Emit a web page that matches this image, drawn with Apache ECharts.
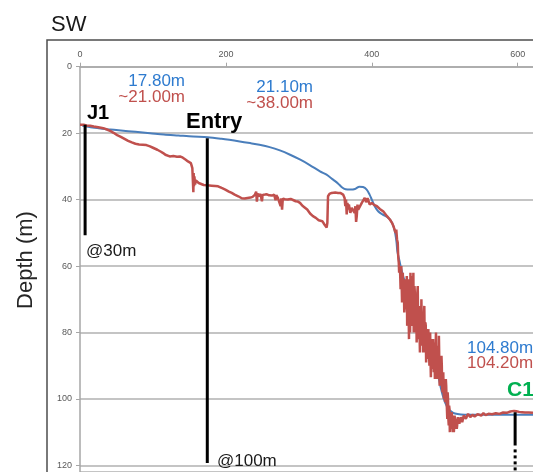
<!DOCTYPE html>
<html>
<head>
<meta charset="utf-8">
<script src="https://cdn.jsdelivr.net/npm/echarts@6/dist/echarts.min.js"></script>
<style>html,body{margin:0;padding:0;background:#fff;}#c{width:533px;height:472px;}</style>
</head>
<body>
<div id="c"></div>
<script>
// ---- data ----
const xTicks = [0, 200, 400, 600];
const yTicks = [0, 20, 40, 60, 80, 100, 120];

const blueData = [
 [3,17.7],[17,18.3],[37,18.8],[56,19.2],[76,19.6],[96,20.0],[115,20.4],[135,20.7],[155,21.0],[175,21.2],
 [194,21.7],[219,22.5],[233,23.0],[246,23.5],[260,24.2],[274,25.2],[288,26.5],[302,28.0],[315,29.6],[329,31.5],
 [338,32.5],[347,34.0],[354,35.2],[359,36.3],[364,36.9],[371,37.0],[377,36.8],[383,36.1],[388,36.2],[393,37.0],
 [397,38.5],[400,40.0],[404,42.0],[409,43.6],[415,44.5],[421,45.2],[426,46.3],[430,48.2],[432,50.0],[434,53.0],
 [435,55.5],[438,58.5],[440.5,61],[445.5,65],[450.5,68.5],[459,72],[465,75],[470,78],[476,81.5],[482,85],
 [487,88.5],[491,93],[495,97],[498,99.5],[501,101.3],[504.5,102.8],[509.5,103.9],[514,104.4],[522,104.7],[534,104.8],
 [621,104.8]
];

const redData = [
 [0,17.5],[5,17.5],[9,17.7],[14,17.8],[19,18.0],[25,18.2],[32,18.5],[37,18.9],[42,19.4],[46,19.9],
 [51,20.6],[56,21.1],[61,21.7],[66,22.3],[71,22.8],[76,23.2],[81,23.4],[86,23.5],[91,23.6],[96,24.0],
 [100,24.4],[106,25.0],[111,25.6],[114,26.0],[117,26.5],[123,27.0],[128,26.9],[133,27.1],[137,27.0],[141,27.4],
 [145,28.0],[148,28.5],[152,29.0],[154,30.5],[155,31.0],[155.4,37.8],[155.8,32],[156.3,36],[156.8,33],[157.8,35.5],
 [158.8,34.2],[160.8,34.6],[162.7,35.0],[164.7,35.5],[169.6,35.6],[174.6,35.7],[180.5,35.8],[185.4,35.9],[189.3,36.0],[194.2,36.5],
 [199.2,37.0],[204.1,37.6],[208,38.0],[212,38.5],[216.9,39.0],[218.9,39.3],[221.8,39.6],[225.8,39.7],[229.7,39.5],[233.7,39.4],
 [236.6,39.2],[239.6,38.6],[241.5,37.6],[242.5,40.6],[243.5,38.2],[245.5,39.0],[247.4,38.3],[249.4,40.5],[250.4,38.6],[253.4,38.5],
 [256.3,38.4],[259.3,38.7],[263.2,38.8],[266.2,38.5],[268.1,40.2],[269.1,38.7],[271.1,39.4],[273.1,39.3],[275,42.0],[276,39.6],
 [277,43.0],[278,39.7],[279,40.0],[281,39.9],[284.9,40.0],[288.8,39.8],[292.8,40.2],[295.7,40.5],[298.7,40.6],[301.6,41.0],
 [304.6,41.8],[307.5,42.3],[311.5,43.0],[313.5,43.5],[315.4,44.2],[317.4,44.6],[319.3,45.0],[321.3,44.5],[323.3,45.5],[325.3,45.2],
 [327.2,46.2],[329.2,46.0],[332.2,46.5],[335.1,47.5],[336.1,48.0],[338.1,48.4],[339.1,47.0],[340,39.0],[342,38.3],[345,38.0],
 [349.9,37.9],[353.8,38.0],[356.8,38.0],[360.7,38.5],[362.7,39.5],[363.7,42.0],[364.7,40.0],[365.6,44.5],[366.6,41.0],[367.6,43.0],
 [368.6,41.5],[370.6,44.0],[372.5,42.5],[374.5,43.0],[376.5,44.0],[377.5,42.0],[378.5,46.7],[379.4,45.0],[380.4,41.5],[381.4,43.0],
 [383.4,42.4],[386.3,41.0],[388.3,40.6],[390.3,39.5],[392.2,40.8],[394.2,39.6],[395.2,40.0],[397.2,41.5],[400.1,41.0],[403.1,41.6],
 [407,42.0],[411,42.8],[415.9,43.6],[420.8,45.0],[424.8,46.0],[427.7,47.0],[429.7,48.0],[431.6,48.4],[432.6,50.0],[433.6,49.0],
 [434.6,52.0],[435.6,53.0],
 [436,56],[436.5,58],[437,59],[437.5,62],[438,61],[438.5,60],[439,63],[439.5,67],[440,62],[440.5,60],
 [441,66],[441.5,71],[442,64],[442.5,62],[443,70],[443.5,68],[444,65],[444.5,74],[445,72],[445.5,64],
 [446,66],[446.5,73],[447,70],[447.5,66],[448,63],[448.5,78],[449,76],[449.5,64],[450,68],[450.5,74],
 [451,82],[451.5,66],[452,70],[452.5,80],[453,62],[453.5,68],[454,74],[454.5,63],[455,66],[455.5,76],
 [456,78],[456.5,68],[457,62],[457.5,80],[458,72],[458.5,66],[459,68],[459.5,74],[460,80],[460.5,70],
 [461,71],[461.5,83],[462,76],[462.5,68],[463,66],[463.5,79],[464,82],[464.5,74],[465,72],[465.5,80],
 [466,86],[466.5,72],[467,76],[467.5,82],[468,70],[468.5,78],[469,84],[469.5,74],[470,76],[470.5,86],
 [471,80],[471.5,75],[472,72],[472.5,82],[473,86],[473.5,77],[474,78],[474.5,89],[475,84],[475.5,79],
 [476,80],[476.5,86],[477,88],[477.5,79],[478,82],[478.5,86],[479,90],[479.5,84],[480,80],[480.5,88],
 [481,93.5],[481.5,82],[482,84],[482.5,91],[483,88],[483.5,85],[484,82],[484.5,88],[485,92],[485.5,83],
 [486,86],[486.5,94],[487,90],[487.5,85],[488,80],[488.5,90],[489,94],[489.5,88],[490,86],[490.5,84],
 [491,92],[491.5,94],[492,81],[492.5,88],[493,96],[493.5,91],[494,88],[494.5,96],[495,94],[495.5,87],
 [496,90],[496.5,97],[497,98],[497.5,93],[498,92],[498.5,98],[499,100],[499.5,95],[500,94],[500.5,101],
 [501,99],[501.5,94],[502,96],[502.5,100],[503,103],[503.5,106],[504,98],[504.5,100],[505,106],[505.5,108],
 [506,102],[506.5,103],[507,110],[507.5,106],[508,104],[508.5,108],[509,109],[509.5,104],[510,105],[510.5,108],
 [511,110],[511.5,107],[512,106],[512.5,110],[513,108],[513.5,105],[514,105],[514.5,107],[515,109],[515.5,106],
 [516,106],[516.5,109],[517,108],[518,105.5],[520,107.5],[522,105.5],[524,107],[526,105],[529,106],
 [532,104.5],[535,105.5],[538,104.8],[541,105.3],[545,104.6],[550,105],[553,104.3],[556,104.9],[560,104.5],[565,104.6],
 [570,104.3],[575,104.5],[580,104.1],[585,104.2],[590,103.8],[595,103.6],[598,103.7],[602,103.9],[606,104.0],[610,104.1],
 [615,104.1],[621,104.2]
];

const j1Line = [[7, 17.5], [7, 50.7]];
const entryLine = [[174.5, 21.5], [174.5, 119.3]];
const c1Solid = [[596.5, 104], [596.5, 114]];
const c1Dotted = [[596.5, 115.2], [596.5, 122]];

// ---- chart ----
const chart = echarts.init(document.getElementById('c'), null, {renderer: 'canvas'});
const F = 'Liberation Sans, Arial, sans-serif';
const axisGray = '#a6a6a6';
const blueTxt = '#2e7bcf', redTxt = '#c0504d';

function txt(text, x, y, size, color, align, bold, rot) {
  const o = {
    type: 'text', z: 100,
    x: x, y: y,
    style: {
      text: text, fill: color,
      font: (bold ? 'bold ' : '') + size + 'px ' + F,
      textAlign: align || 'left', textVerticalAlign: 'middle'
    }
  };
  if (rot) o.rotation = rot;
  return o;
}

const option = {
  animation: false,
  backgroundColor: '#fff',
  grid: {left: 80, top: 66.7, width: 453, height: 406.7, containLabel: false},
  xAxis: {
    type: 'value', position: 'top', min: 0, max: 621, interval: 200,
    axisLine: {show: true, onZero: false, lineStyle: {color: axisGray, width: 1.5}},
    axisTick: {show: true, length: 4, lineStyle: {color: axisGray, width: 1}},
    axisLabel: {fontSize: 9, color: '#595959', margin: 8, fontFamily: F, showMaxLabel: false,
      formatter: v => (xTicks.indexOf(v) >= 0 ? String(v) : '')},
    splitLine: {show: false}
  },
  yAxis: {
    type: 'value', inverse: true, min: 0, max: 122, interval: 20,
    axisLine: {show: true, onZero: false, lineStyle: {color: axisGray, width: 1.5}},
    axisTick: {show: true, length: 4, lineStyle: {color: axisGray, width: 1}},
    axisLabel: {fontSize: 9, color: '#595959', margin: 8, fontFamily: F, showMaxLabel: false,
      formatter: v => (yTicks.indexOf(v) >= 0 ? String(v) : '')},
    splitLine: {show: true, lineStyle: {color: '#b0b0b0', width: 1.5}}
  },
  series: [
    {type: 'line', data: blueData, smooth: 0.3, showSymbol: false, z: 2,
     lineStyle: {color: '#4a7ebb', width: 2}},
    {type: 'line', data: redData, showSymbol: false, z: 3,
     lineStyle: {color: '#c0504d', width: 2.5}},
    {type: 'line', data: j1Line, showSymbol: false, z: 5, lineStyle: {color: '#000', width: 3}},
    {type: 'line', data: entryLine, showSymbol: false, z: 5, lineStyle: {color: '#000', width: 3}},
    {type: 'line', data: c1Solid, showSymbol: false, z: 5, lineStyle: {color: '#000', width: 3}},
    {type: 'line', data: c1Dotted, showSymbol: false, z: 5, lineStyle: {color: '#000', width: 3, type: [3, 3]}}
  ],
  graphic: [
    {type: 'rect', z: 90, shape: {x: 47, y: 40, width: 600, height: 500},
     style: {fill: 'none', stroke: '#4d4d4d', lineWidth: 1.5}},
    txt('SW', 51, 25, 22, '#1a1a1a', 'left', false),
    txt('Depth (m)', 26, 260, 22, '#262626', 'center', false, Math.PI / 2),
    txt('17.80m', 185, 81, 17, blueTxt, 'right'),
    txt('~21.00m', 185, 97.5, 17, redTxt, 'right'),
    txt('21.10m', 313, 87, 17, blueTxt, 'right'),
    txt('~38.00m', 313, 103, 17, redTxt, 'right'),
    txt('J1', 87, 113.5, 20, '#000', 'left', true),
    txt('Entry', 186, 122, 22, '#000', 'left', true),
    txt('@30m', 86, 251, 17, '#1a1a1a', 'left'),
    txt('@100m', 217, 461, 17, '#1a1a1a', 'left'),
    txt('104.80m', 467, 348, 17, blueTxt, 'left'),
    txt('104.20m', 467, 363.5, 17, redTxt, 'left'),
    txt('C1', 507, 390.5, 21, '#00b050', 'left', true)
  ]
};
chart.setOption(option);
</script>
</body>
</html>
